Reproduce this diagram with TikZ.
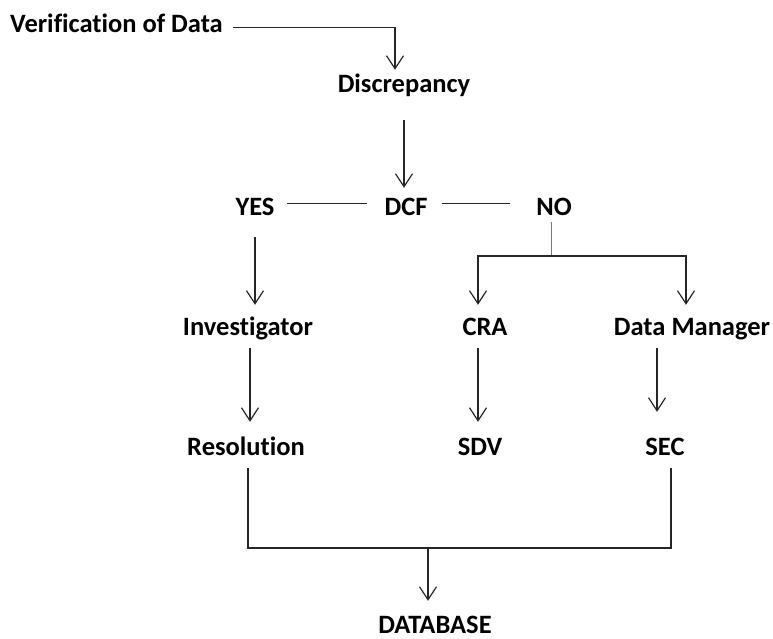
\documentclass[tikz,border=0pt]{standalone}
\usepackage{fontspec}
\setmainfont{Carlito}[Ligatures={NoCommon,NoContextual}]
\definecolor{linkblue}{RGB}{79,129,189}
\colorlet{linecolor}{black!85}
\usetikzlibrary{
  arrows.meta,
  calc,
  positioning,
}
\tikzset{
  >={Straight Barb[length=13pt,width=17pt]},
  stage/.style={font=\fontsize{26.5}{31}\selectfont\bfseries, anchor=base,
    inner sep=0pt, text height=16pt, text depth=5pt},
  flow/.style={linecolor, line width=1.2pt},
}

\begin{document}
\begin{tikzpicture}[x=1pt, y=-1pt]
  \useasboundingbox (0,0) rectangle (773,639);

  \node [stage, anchor=base west] (verif) at (10,33) {Verification of Data};
  \node [stage] (disc) at (404,93) {Discrepancy};
  \node [stage] (yes)  at (255,215) {YES};
  \node [stage] (dcf)  at (406,215) {DCF};
  \node [stage] (no)   at (554,215) {NO};
  \node [stage] (inv)  at (248,335) {Investigator};
  \node [stage] (cra)  at (485,335) {CRA};
  \node [stage] (dm)   at (692,335) {Data Manager};
  \node [stage] (res)  at (246,455) {Resolution};
  \node [stage] (sdv)  at (480,455) {SDV};
  \node [stage] (sec)  at (665,455) {SEC};
  \node [stage, text depth=0pt] (db) at (435,633) {DATABASE};

  \coordinate (nosplit) at (551,256);
  \coordinate (merge) at (428,548);

  % top of the flow
  \draw [flow, ->, shorten <=10pt, shorten >=7pt]
        (verif.east) -| ([xshift=-9pt]disc.north);
  \draw [flow, ->, shorten <=22pt, shorten >=11pt]
        (disc.south) -- (disc.south |- dcf.north);
  \draw [flow, shorten <=12pt, shorten >=17pt]
        ([yshift=6pt]yes.east) -- ([yshift=6pt]dcf.west);
  \draw [flow, shorten <=14pt, shorten >=26pt]
        ([yshift=6pt]dcf.east) -- ([yshift=6pt]no.west);

  % yes branch
  \draw [flow, ->, shorten <=17pt, shorten >=14pt]
        (yes.south) -- (yes.south |- inv.north);
  \draw [flow, ->, shorten <=8pt, shorten >=17pt]
        ([xshift=2pt]inv.south) -- ([xshift=2pt]inv.south |- res.north);

  % no branch
  \draw [linkblue, line width=1pt, shorten <=2pt] (no.south -| nosplit) -- (nosplit);
  \draw [flow, ->, shorten >=14pt] (nosplit) -| ([xshift=-7pt]cra.north);
  \draw [flow, ->, shorten >=14pt] (nosplit) -| ([xshift=-6pt]dm.north);
  \draw [flow, ->, shorten <=8pt, shorten >=17pt]
        ([xshift=-7pt]cra.south) -- ([xshift=-7pt]cra.south |- sdv.north);
  \draw [flow, ->, shorten <=8pt, shorten >=27pt]
        ([xshift=-35pt]dm.south) -- ([xshift=-35pt]dm.south |- sec.north);

  % into the database
  \draw [flow, shorten <=8pt, shorten >=8pt]
        ([xshift=2pt]res.south) |- (merge) -| ([xshift=6pt]sec.south);
  \draw [flow, ->, shorten >=16pt] (merge) -- (merge |- db.north);
\end{tikzpicture}
\end{document}
